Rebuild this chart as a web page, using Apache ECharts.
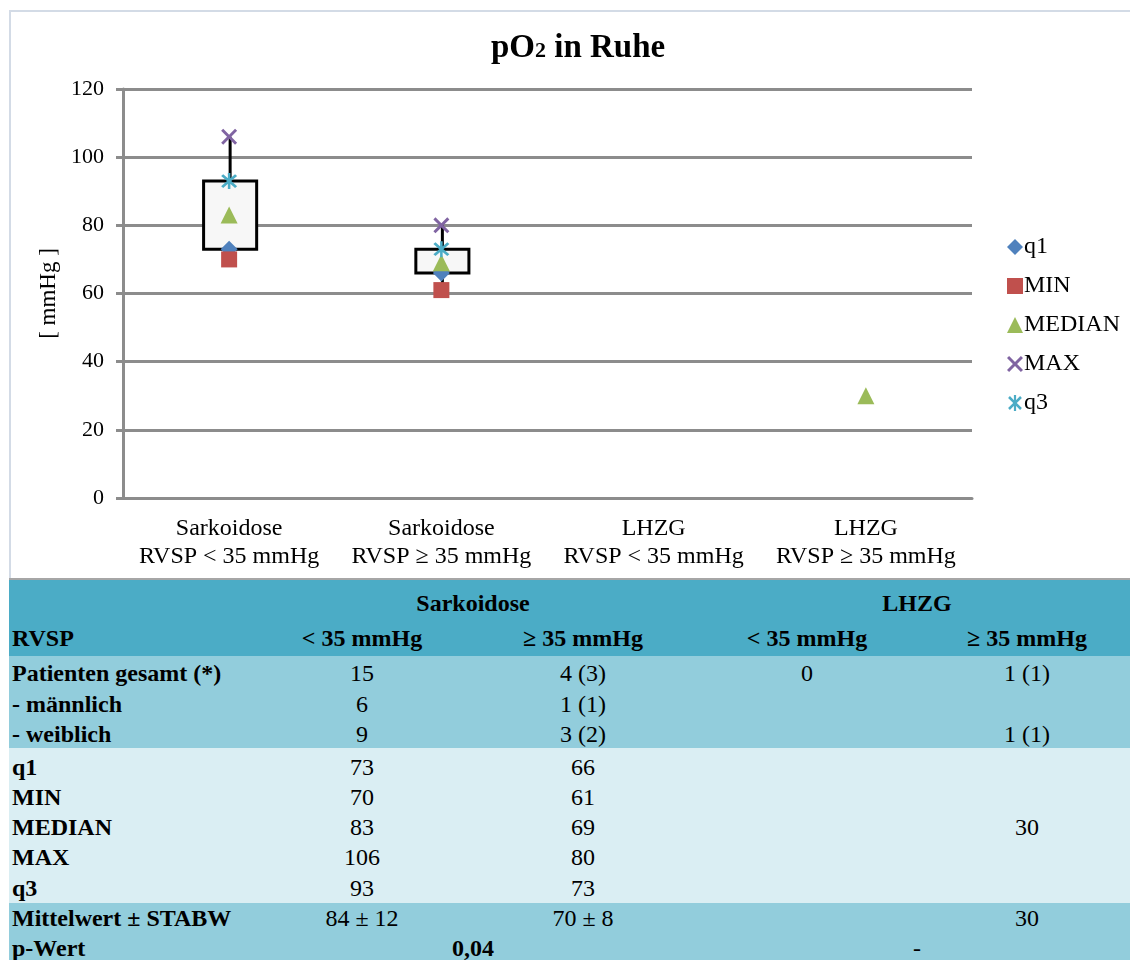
<!DOCTYPE html>
<html>
<head>
<meta charset="utf-8">
<script src="https://cdn.jsdelivr.net/npm/echarts@6/dist/echarts.min.js"></script>
<style>
  html, body { margin: 0; padding: 0; background: #fff; }
  body { width: 1130px; height: 960px; position: relative; overflow: hidden; font-family: 'Liberation Serif', 'Times New Roman', serif; }
  #frame { position: absolute; left: 9px; top: 10px; width: 1121px; height: 568px; border-top: 2px solid #d3dbe6; border-left: 2px solid #d3dbe6; box-sizing: border-box; }
  #chart { position: absolute; left: 0; top: 0; width: 1130px; height: 578px; }
  .bg { position: absolute; left: 9px; width: 1121px; }
  .t { position: absolute; height: 30px; line-height: 30px; font-size: 24px; color: #000; white-space: nowrap; font-family: 'Liberation Serif', 'Times New Roman', serif; }
  .b { font-weight: bold; }
  .c { transform: translateX(-50%); }
</style>
</head>
<body>
<div id="chart"></div>
<div id="frame"></div>
<div id="table"></div>
<script>
// ---- chart data ----
const categories = ['Sarkoidose\nRVSP < 35 mmHg', 'Sarkoidose\nRVSP \u2265 35 mmHg', 'LHZG\nRVSP < 35 mmHg', 'LHZG\nRVSP \u2265 35 mmHg'];
const q1Values     = [73, 66, null, null];
const minValues    = [70, 61, null, null];
const medianValues = [83, 69, null, 30];
const maxValues    = [106, 80, null, null];
const q3Values     = [93, 73, null, null];
const yTicks = [0, 20, 40, 60, 80, 100, 120];

// ---- table data ----
const groupHeaders = ['Sarkoidose', 'LHZG'];
const colHeaders = ['RVSP', '< 35 mmHg', '\u2265 35 mmHg', '< 35 mmHg', '\u2265 35 mmHg'];
const countLabels = ['Patienten gesamt (*)', '- m\u00e4nnlich', '- weiblich'];
const countValues = [
  ['15', '4 (3)', '0', '1 (1)'],
  ['6', '1 (1)', '', ''],
  ['9', '3 (2)', '', '1 (1)']
];
const statLabels = ['q1', 'MIN', 'MEDIAN', 'MAX', 'q3'];
const meanLabel = 'Mittelwert \u00b1 STABW';
const meanValues = ['84 \u00b1 12', '70 \u00b1 8', '', '30'];
const pLabel = 'p-Wert';
const pValues = ['0,04', '-'];

const FONT = "Liberation Serif";
const GRID = '#8c8c8c';

const symX = 'path://M0,1.3 L1.3,0 L5,3.7 L8.7,0 L10,1.3 L6.3,5 L10,8.7 L8.7,10 L5,6.3 L1.3,10 L0,8.7 L3.7,5 Z';
const symStar = 'path://M0,1.3 L1.3,0 L5,3.7 L8.7,0 L10,1.3 L6.3,5 L10,8.7 L8.7,10 L5,6.3 L1.3,10 L0,8.7 L3.7,5 Z M4.2,-0.8 L5.8,-0.8 L5.8,10.8 L4.2,10.8 Z';

const boxData = [];
for (let i = 0; i < categories.length; i++) {
  if (q1Values[i] != null && q3Values[i] != null) {
    boxData.push([i, minValues[i], q1Values[i], q3Values[i], maxValues[i]]);
  }
}

const chart = echarts.init(document.getElementById('chart'), null, { renderer: 'canvas' });

function scatter(name, values, symbol, size, color) {
  return {
    name, type: 'scatter', data: values.map((v, i) => (v == null ? [i, null] : [i, v])),
    symbol, symbolSize: size, itemStyle: { color, opacity: 1 }, z: 5,
    emphasis: { disabled: true }
  };
}

chart.setOption({
  animation: false,
  backgroundColor: '#fff',
  textStyle: { fontFamily: FONT },
  title: {
    text: '{a|pO}{b|2}{a| in Ruhe}',
    left: 486, top: 27,
    textStyle: {
      fontFamily: FONT, fontWeight: 'bold', fontSize: 33, color: '#000',
      rich: {
        a: { fontFamily: FONT, fontSize: 33, fontWeight: 'bold', color: '#000' },
        b: { fontFamily: FONT, fontSize: 22, fontWeight: 'bold', color: '#000', verticalAlign: 'bottom', padding: [0, 0, 3, 0] }
      }
    }
  },
  grid: { left: 123, right: 158, top: 89, bottom: 80 },
  legend: {
    orient: 'vertical', left: 1002, top: 230,
    itemWidth: 16, itemHeight: 16, itemGap: 15,
    data: ['q1', 'MIN', 'MEDIAN', 'MAX', 'q3'],
    textStyle: { fontFamily: FONT, fontSize: 24, color: '#000', padding: [0, 0, 0, -4], lineHeight: 24 }
  },
  xAxis: {
    type: 'category', data: categories,
    axisLine: { show: true, lineStyle: { color: GRID, width: 3 } },
    axisTick: { show: false },
    axisLabel: { fontFamily: FONT, fontSize: 24, color: '#000', lineHeight: 28, margin: 17, interval: 0 }
  },
  yAxis: {
    type: 'value', min: yTicks[0], max: yTicks[yTicks.length - 1], interval: yTicks[1] - yTicks[0],
    name: '[ mmHg ]', nameLocation: 'middle', nameGap: 62, nameRotate: 90,
    nameTextStyle: { fontFamily: FONT, fontSize: 23, color: '#000' },
    axisLine: { show: true, lineStyle: { color: GRID, width: 3 } },
    axisTick: { show: true, length: 7, lineStyle: { color: GRID, width: 3 } },
    axisLabel: { fontFamily: FONT, fontSize: 22, color: '#000', margin: 19 },
    splitLine: { show: true, lineStyle: { color: GRID, width: 3 } }
  },
  series: [
    {
      type: 'custom', name: 'box', z: 2, silent: true,
      data: boxData,
      encode: { x: 0, y: [1, 2, 3, 4] },
      renderItem: function (params, api) {
        const x = api.value(0);
        const pMin = api.coord([x, api.value(1)]);
        const pQ1 = api.coord([x, api.value(2)]);
        const pQ3 = api.coord([x, api.value(3)]);
        const pMax = api.coord([x, api.value(4)]);
        const w = api.size([1, 0])[0] * 0.25;
        const cx = pQ1[0] + 1;
        return {
          type: 'group',
          children: [
            { type: 'line', shape: { x1: cx, y1: pMax[1], x2: cx, y2: pQ3[1] }, style: { stroke: '#000', lineWidth: 3 } },
            { type: 'line', shape: { x1: cx, y1: pQ1[1], x2: cx, y2: pMin[1] }, style: { stroke: '#000', lineWidth: 3 } },
            { type: 'rect', shape: { x: cx - w / 2, y: pQ3[1], width: w, height: pQ1[1] - pQ3[1] }, style: { fill: '#f7f7f7', stroke: '#000', lineWidth: 3 } }
          ]
        };
      }
    },
    scatter('q1', q1Values, 'diamond', 17, '#4f81bd'),
    scatter('MIN', minValues, 'rect', 16, '#c0504d'),
    scatter('MEDIAN', medianValues, 'triangle', 17, '#9bbb59'),
    scatter('MAX', maxValues, symX, 16, '#8064a2'),
    scatter('q3', q3Values, symStar, 16, '#4bacc6')
  ]
});

// ---- table (HTML) ----
const tbl = document.getElementById('table');
function bg(top, height, color) {
  const d = document.createElement('div');
  d.className = 'bg';
  d.style.top = top + 'px'; d.style.height = height + 'px'; d.style.background = color;
  tbl.appendChild(d);
}
function txt(s, x, yc, bold, center) {
  if (s === '' || s == null) return;
  const d = document.createElement('div');
  d.className = 't' + (bold ? ' b' : '') + (center ? ' c' : '');
  d.textContent = s;
  d.style.left = x + 'px'; d.style.top = (yc - 15) + 'px';
  tbl.appendChild(d);
}
bg(578, 2, '#a6a6a6');
bg(580, 76, '#4bacc6');
bg(656, 92, '#92cddc');
bg(748, 155, '#daeef3');
bg(903, 57, '#92cddc');

const colX = [362, 583, 807, 1027];
const groupX = [473, 917];
const labelX = 12;

txt(groupHeaders[0], groupX[0], 603, true, true);
txt(groupHeaders[1], groupX[1], 603, true, true);
txt(colHeaders[0], labelX, 638, true, false);
for (let c = 0; c < 4; c++) txt(colHeaders[c + 1], colX[c], 638, true, true);

const countY = [673, 704, 734];
countLabels.forEach((l, r) => {
  txt(l, labelX, countY[r], true, false);
  countValues[r].forEach((v, c) => txt(v, colX[c], countY[r], false, true));
});

const statY = [767, 797, 827, 857, 888];
const statSeries = [q1Values, minValues, medianValues, maxValues, q3Values];
statLabels.forEach((l, r) => {
  txt(l, labelX, statY[r], true, false);
  statSeries[r].forEach((v, c) => txt(v == null ? '' : String(v), colX[c], statY[r], false, true));
});

txt(meanLabel, labelX, 918, true, false);
meanValues.forEach((v, c) => txt(v, colX[c], 918, false, true));

txt(pLabel, labelX, 948, true, false);
txt(pValues[0], groupX[0], 948, true, true);
txt(pValues[1], groupX[1], 948, false, true);
</script>
</body>
</html>
